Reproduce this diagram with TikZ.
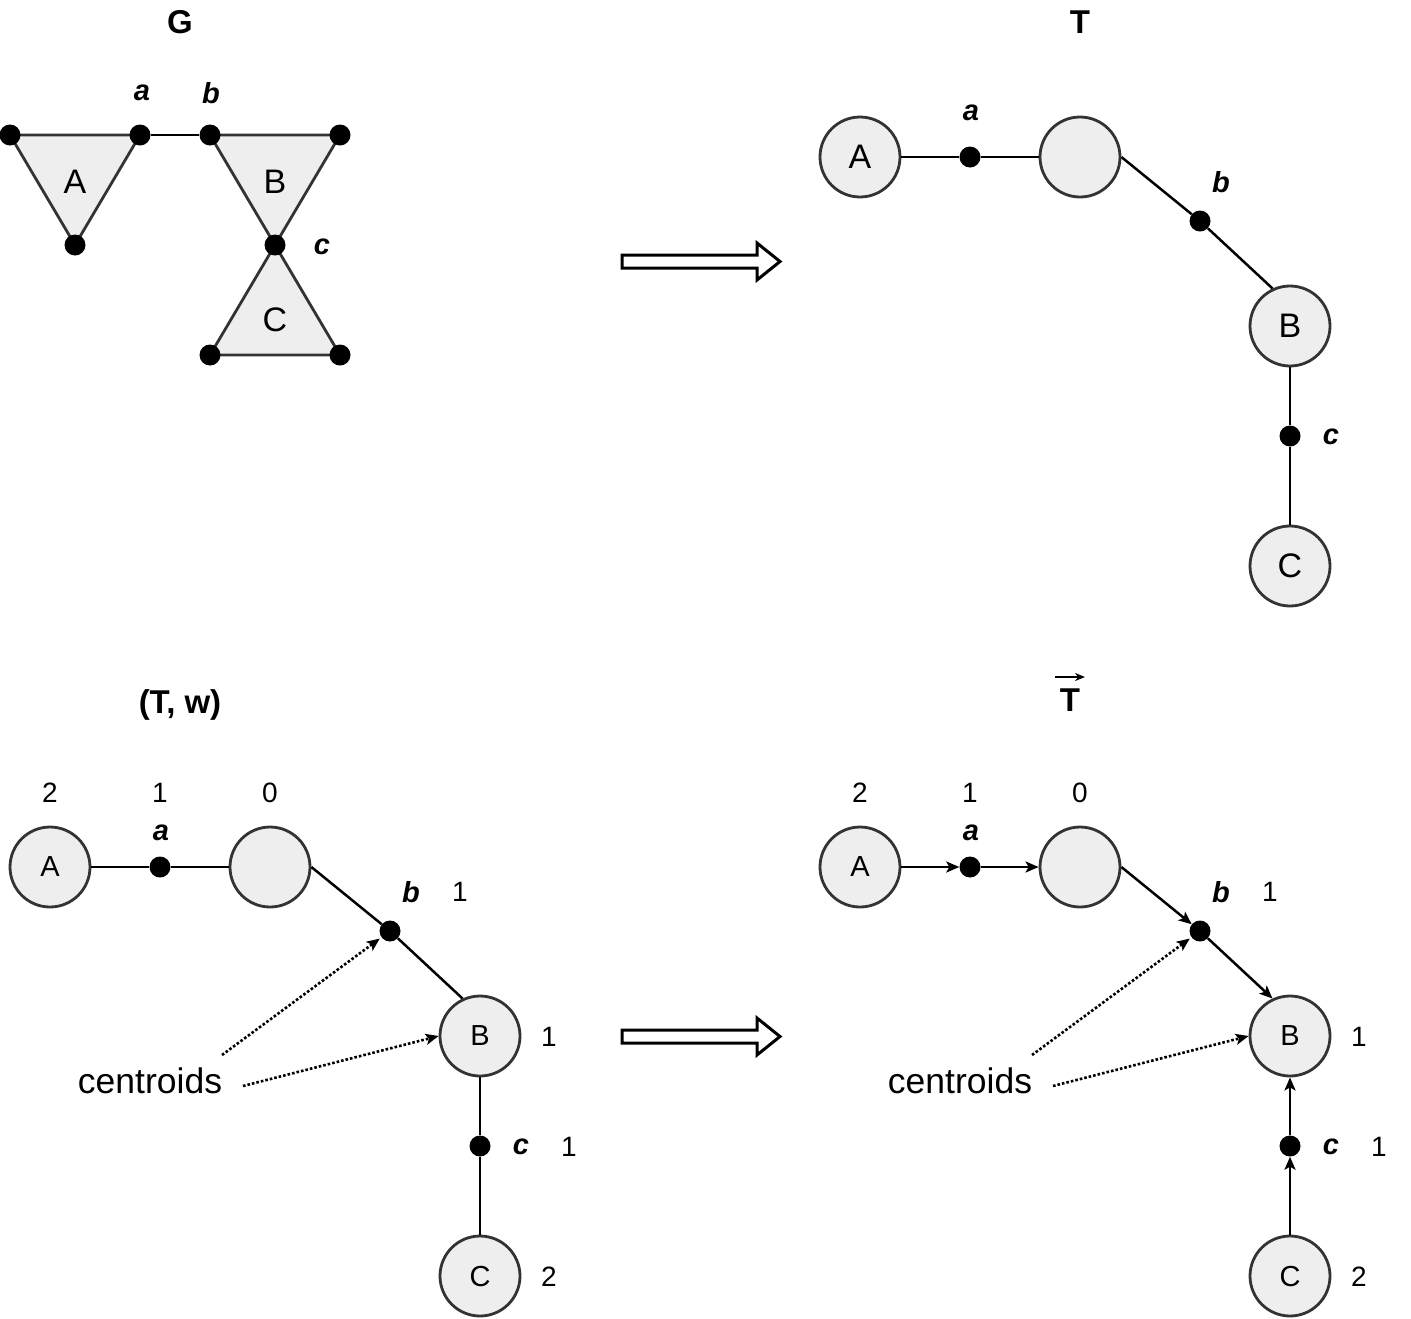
\documentclass[tikz,border=0pt]{standalone}
\usepackage{fontspec}
\setmainfont{Liberation Sans}
\usetikzlibrary{arrows.meta}
\definecolor{cfill}{HTML}{EEEEEE}
\definecolor{cline}{HTML}{333333}
\begin{document}
\begin{tikzpicture}[x=1pt,y=-1pt,
  circ/.style={circle,draw=cline,fill=cfill,line width=2.8pt,minimum size=80pt,inner sep=0pt},
  bigtxt/.style={font=\fontsize{34}{38}\selectfont},
  smtxt/.style={font=\fontsize{29}{32}\selectfont},
  vdot/.style={circle,fill=black,minimum size=21pt,inner sep=0pt},
  lbl/.style={font=\fontsize{29}{32}\selectfont\bfseries\itshape},
  num/.style={font=\fontsize{28}{32}\selectfont},
  ttl/.style={font=\fontsize{33}{38}\selectfont\bfseries},
  edge/.style={line width=2.5pt},
  tri/.style={draw=cline,fill=cfill,line width=2.8pt,line join=round},
  darr/.style={edge,-{Stealth[length=13pt,width=11pt,inset=3pt]}},
  cen/.style={line width=2.6pt,dotted,-{Stealth[length=13pt,width=11pt,inset=3pt]}},
  hollow/.style={draw=black,fill=white,line width=3pt,line join=miter}
]
\useasboundingbox (0,0) rectangle (1411,1318);

% ---------------- G ----------------
\node[ttl] (tG) at (180,22) {G};
\coordinate (g1) at (10,135);
\coordinate (g2) at (140,135);
\coordinate (g3) at (75,245);
\coordinate (g4) at (210,135);
\coordinate (g5) at (340,135);
\coordinate (g6) at (275,245);
\coordinate (g7) at (210,355);
\coordinate (g8) at (340,355);
\path[tri] (g1) -- (g2) -- (g3) -- cycle;
\path[tri] (g4) -- (g5) -- (g6) -- cycle;
\path[tri] (g6) -- (g7) -- (g8) -- cycle;
\foreach \p in {g1,g2,g3,g4,g5,g6,g7,g8} \node[vdot] (d\p) at (\p) {};
\draw[edge] (dg2) -- (dg4);
\node[bigtxt] (gA) at (75,182) {A};
\node[bigtxt] (gB) at (275,182) {B};
\node[bigtxt] (gC) at (275,320) {C};
\node[lbl] (gla) at (142,93) {a};
\node[lbl] (glb) at (211,93) {b};
\node[lbl] (glc) at (322,247) {c};

% hollow arrows
\path[hollow] (622,255) -- (757,255) -- (757,243) -- (780,261.5) -- (757,280) -- (757,268) -- (622,268) -- cycle;
\path[hollow] (622,1030) -- (757,1030) -- (757,1018) -- (780,1036.5) -- (757,1055) -- (757,1043) -- (622,1043) -- cycle;

% ---------------- T ----------------
\node[ttl] (tT) at (1080,22) {T};
\node[circ,bigtxt] (tA) at (860,157) {A};
\node[vdot] (ta) at (970,157) {};
\node[circ] (tE) at (1080,157) {};
\node[vdot] (tb) at (1200,221) {};
\node[circ,bigtxt] (tB) at (1290,326) {B};
\node[vdot] (tc) at (1290,436) {};
\node[circ,bigtxt] (tC) at (1290,566) {C};
\node[lbl] at (971,113) (tla) {a};
\node[lbl] at (1221,182) (tlb) {b};
\node[lbl] at (1331,437) (tlc) {c};
\draw[edge] (tA) -- (ta);
\draw[edge] (ta) -- (tE);
\draw[edge] (tE.east) -- (tb);
\draw[edge] (tb) -- (tB.115);
\draw[edge] (tB) -- (tc);
\draw[edge] (tc) -- (tC);

% ---------------- (T,w) ----------------
\node[ttl] (tTw) at (180,705) {(T, w)};
\node[circ,smtxt] (LA) at (50,867) {A};
\node[vdot] (La) at (160,867) {};
\node[circ] (LE) at (270,867) {};
\node[vdot] (Lb) at (390,931) {};
\node[circ,smtxt] (LB) at (480,1036) {B};
\node[vdot] (Lc) at (480,1146) {};
\node[circ,smtxt] (LC) at (480,1276) {C};
\node[lbl] (Lla) at (161,833) {a};
\node[lbl] (Llb) at (411,892) {b};
\node[lbl] (Llc) at (521,1147) {c};
\node[num] (Ln1) at (50,793) {2};
\node[num] (Ln2) at (160,793) {1};
\node[num] (Ln3) at (270,793) {0};
\node[num] (Ln4) at (460,892) {1};
\node[num] (Ln5) at (549,1037) {1};
\node[num] (Ln6) at (569,1147) {1};
\node[num] (Ln7) at (549,1277) {2};
\draw[edge] (LA) -- (La);
\draw[edge] (La) -- (LE);
\draw[edge] (LE.east) -- (Lb);
\draw[edge] (Lb) -- (LB.115);
\draw[edge] (LB) -- (Lc);
\draw[edge] (Lc) -- (LC);
\node[font=\fontsize{35.5}{40}\selectfont] (Lcen) at (150,1081) {centroids};
\coordinate (Ls1) at (222,1055);
\coordinate (Ls2) at (243,1086);
\draw[cen,shorten >=2pt] (Ls1) -- (Lb);
\draw[cen] (Ls2) -- (LB.west);

% ---------------- directed T ----------------
\node[ttl] (tTv) at (1070,700) {T};
\draw[line width=1.8pt,-{Stealth[length=10pt,width=8pt]}] ([shift={(-15pt,23pt)}]tTv.center) -- ([shift={(15pt,23pt)}]tTv.center);
\node[circ,smtxt] (RA) at (860,867) {A};
\node[vdot] (Ra) at (970,867) {};
\node[circ] (RE) at (1080,867) {};
\node[vdot] (Rb) at (1200,931) {};
\node[circ,smtxt] (RB) at (1290,1036) {B};
\node[vdot] (Rc) at (1290,1146) {};
\node[circ,smtxt] (RC) at (1290,1276) {C};
\node[lbl] (Rla) at (971,833) {a};
\node[lbl] (Rlb) at (1221,892) {b};
\node[lbl] (Rlc) at (1331,1147) {c};
\node[num] (Rn1) at (860,793) {2};
\node[num] (Rn2) at (970,793) {1};
\node[num] (Rn3) at (1080,793) {0};
\node[num] (Rn4) at (1270,892) {1};
\node[num] (Rn5) at (1359,1037) {1};
\node[num] (Rn6) at (1379,1147) {1};
\node[num] (Rn7) at (1359,1277) {2};
\draw[darr] (RA) -- (Ra);
\draw[darr] (Ra) -- (RE);
\draw[darr] (RE.east) -- (Rb);
\draw[darr] (Rb) -- (RB.115);
\draw[darr] (Rc) -- (RB);
\draw[darr] (RC) -- (Rc);
\node[font=\fontsize{35.5}{40}\selectfont] (Rcen) at (960,1081) {centroids};
\coordinate (Rs1) at (1032,1055);
\coordinate (Rs2) at (1053,1086);
\draw[cen,shorten >=2pt] (Rs1) -- (Rb);
\draw[cen] (Rs2) -- (RB.west);
\end{tikzpicture}
\end{document}
